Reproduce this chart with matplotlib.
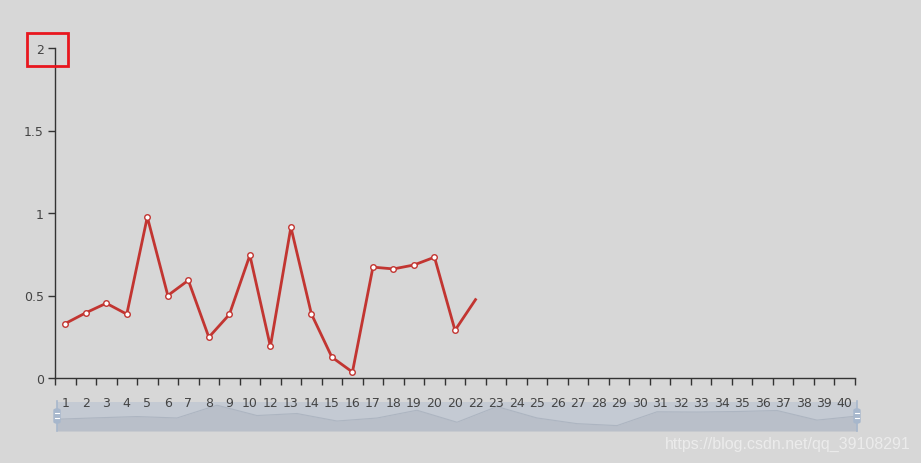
"""
Line chart with a data-zoom style slider below it, drawn in matplotlib.
"""
import matplotlib
matplotlib.use('Agg')
import matplotlib.pyplot as plt
from matplotlib.patches import Rectangle, FancyBboxPatch

# category labels along the x axis (as shown, including the repeated 20)
x_labels = ['1', '2', '3', '4', '5', '6', '7', '8', '9', '10',
            '12', '13', '14', '15', '16', '17', '18', '19', '20', '20',
            '22', '23', '24', '25', '26', '27', '28', '29', '30', '31',
            '32', '33', '34', '35', '36', '37', '38', '39', '40']
# series values
values = [0.33, 0.395, 0.453, 0.387, 0.976, 0.500, 0.592, 0.247, 0.385,
          0.744, 0.191, 0.914, 0.388, 0.126, 0.036, 0.672, 0.661, 0.685,
          0.732, 0.289, 0.475]
y_ticks = [0, 0.5, 1, 1.5, 2]
y_tick_labels = ['0', '0.5', '1', '1.5', '2']

W, H = 921, 464
BG = '#d7d7d7'
RED = '#c23531'
AXIS = '#333333'


def px_box(left, top, right, bottom):
    """convert a pixel box to figure fractions"""
    return [left / W, 1 - bottom / H, (right - left) / W, (bottom - top) / H]


fig = plt.figure(figsize=(W / 100, H / 100), dpi=100, facecolor=BG)

# slider with the data shadow (drawn below the main axes)
sl = fig.add_axes(px_box(57, 403, 857, 432))
sl.set_zorder(1)
sl.set_facecolor('#c4cad3')
xs = list(range(len(values)))
sl.set_xlim(0, len(values) - 1)
sl.set_ylim(-0.213, 1.124)
sl.fill_between(xs, values, -0.213, color='#b9bfc9', linewidth=0)
sl.plot(xs, values, color='#adb5c1', linewidth=0.8)
sl.set_xticks([])
sl.set_yticks([])
for s in sl.spines.values():
    s.set_visible(False)

# main chart (transparent patch so the labels sit on top of the slider)
ax = fig.add_axes(px_box(55, 49, 855, 379))
ax.set_zorder(3)
ax.patch.set_visible(False)
ax.plot(xs, values, color=RED, linewidth=2, marker='o', markersize=4,
        markerfacecolor='white', markeredgecolor=RED, markeredgewidth=1,
        markevery=list(range(len(values) - 1)), zorder=3)
ax.set_xlim(-0.5, len(x_labels) - 0.5)
ax.set_ylim(0, 2)
ax.set_xticks(range(len(x_labels)))
ax.set_xticklabels(x_labels)
ax.set_xticks([i - 0.5 for i in range(len(x_labels) + 1)], minor=True)
ax.tick_params(axis='x', which='major', length=0, pad=13,
               labelsize=9, labelcolor='#444444')
ax.tick_params(axis='x', which='minor', length=5, width=1, color=AXIS)
ax.set_yticks(y_ticks)
ax.set_yticklabels(y_tick_labels)
ax.tick_params(axis='y', length=5, width=1, color=AXIS, pad=3,
               labelsize=9, labelcolor='#444444')
for side in ['top', 'right']:
    ax.spines[side].set_visible(False)
for side in ['left', 'bottom']:
    ax.spines[side].set_color(AXIS)
    ax.spines[side].set_linewidth(1)

# slider handles
for hx in [57, 857]:
    fig.add_artist(plt.Line2D([hx / W, hx / W], [1 - 402 / H, 1 - 432 / H],
                              color='#a7b7cc', linewidth=1.2, zorder=5))
    fig.add_artist(FancyBboxPatch(((hx - 3) / W, 1 - 424 / H), 6 / W, 14 / H,
                                  boxstyle='round,pad=0,rounding_size=0.003',
                                  facecolor='#a7b7cc', edgecolor='#a7b7cc',
                                  transform=fig.transFigure, zorder=6))
    for ly in [414, 419]:
        fig.add_artist(plt.Line2D([(hx - 2) / W, (hx + 2) / W],
                                  [1 - ly / H, 1 - ly / H],
                                  color='white', linewidth=0.8, zorder=7))

# red highlight box around the top tick label
fig.add_artist(Rectangle((27 / W, 1 - 67 / H), 41 / W, 33 / H, fill=False,
                         edgecolor='#e8161e', linewidth=2,
                         transform=fig.transFigure, zorder=10))

# watermark
fig.text(911 / W, 1 - 444 / H, 'https://blog.csdn.net/qq_39108291',
         ha='right', va='center', fontsize=11.5, color='#eeeeee',
         family='Liberation Sans', alpha=0.9, zorder=10)

fig.savefig('out.png', dpi=100, facecolor=BG)
